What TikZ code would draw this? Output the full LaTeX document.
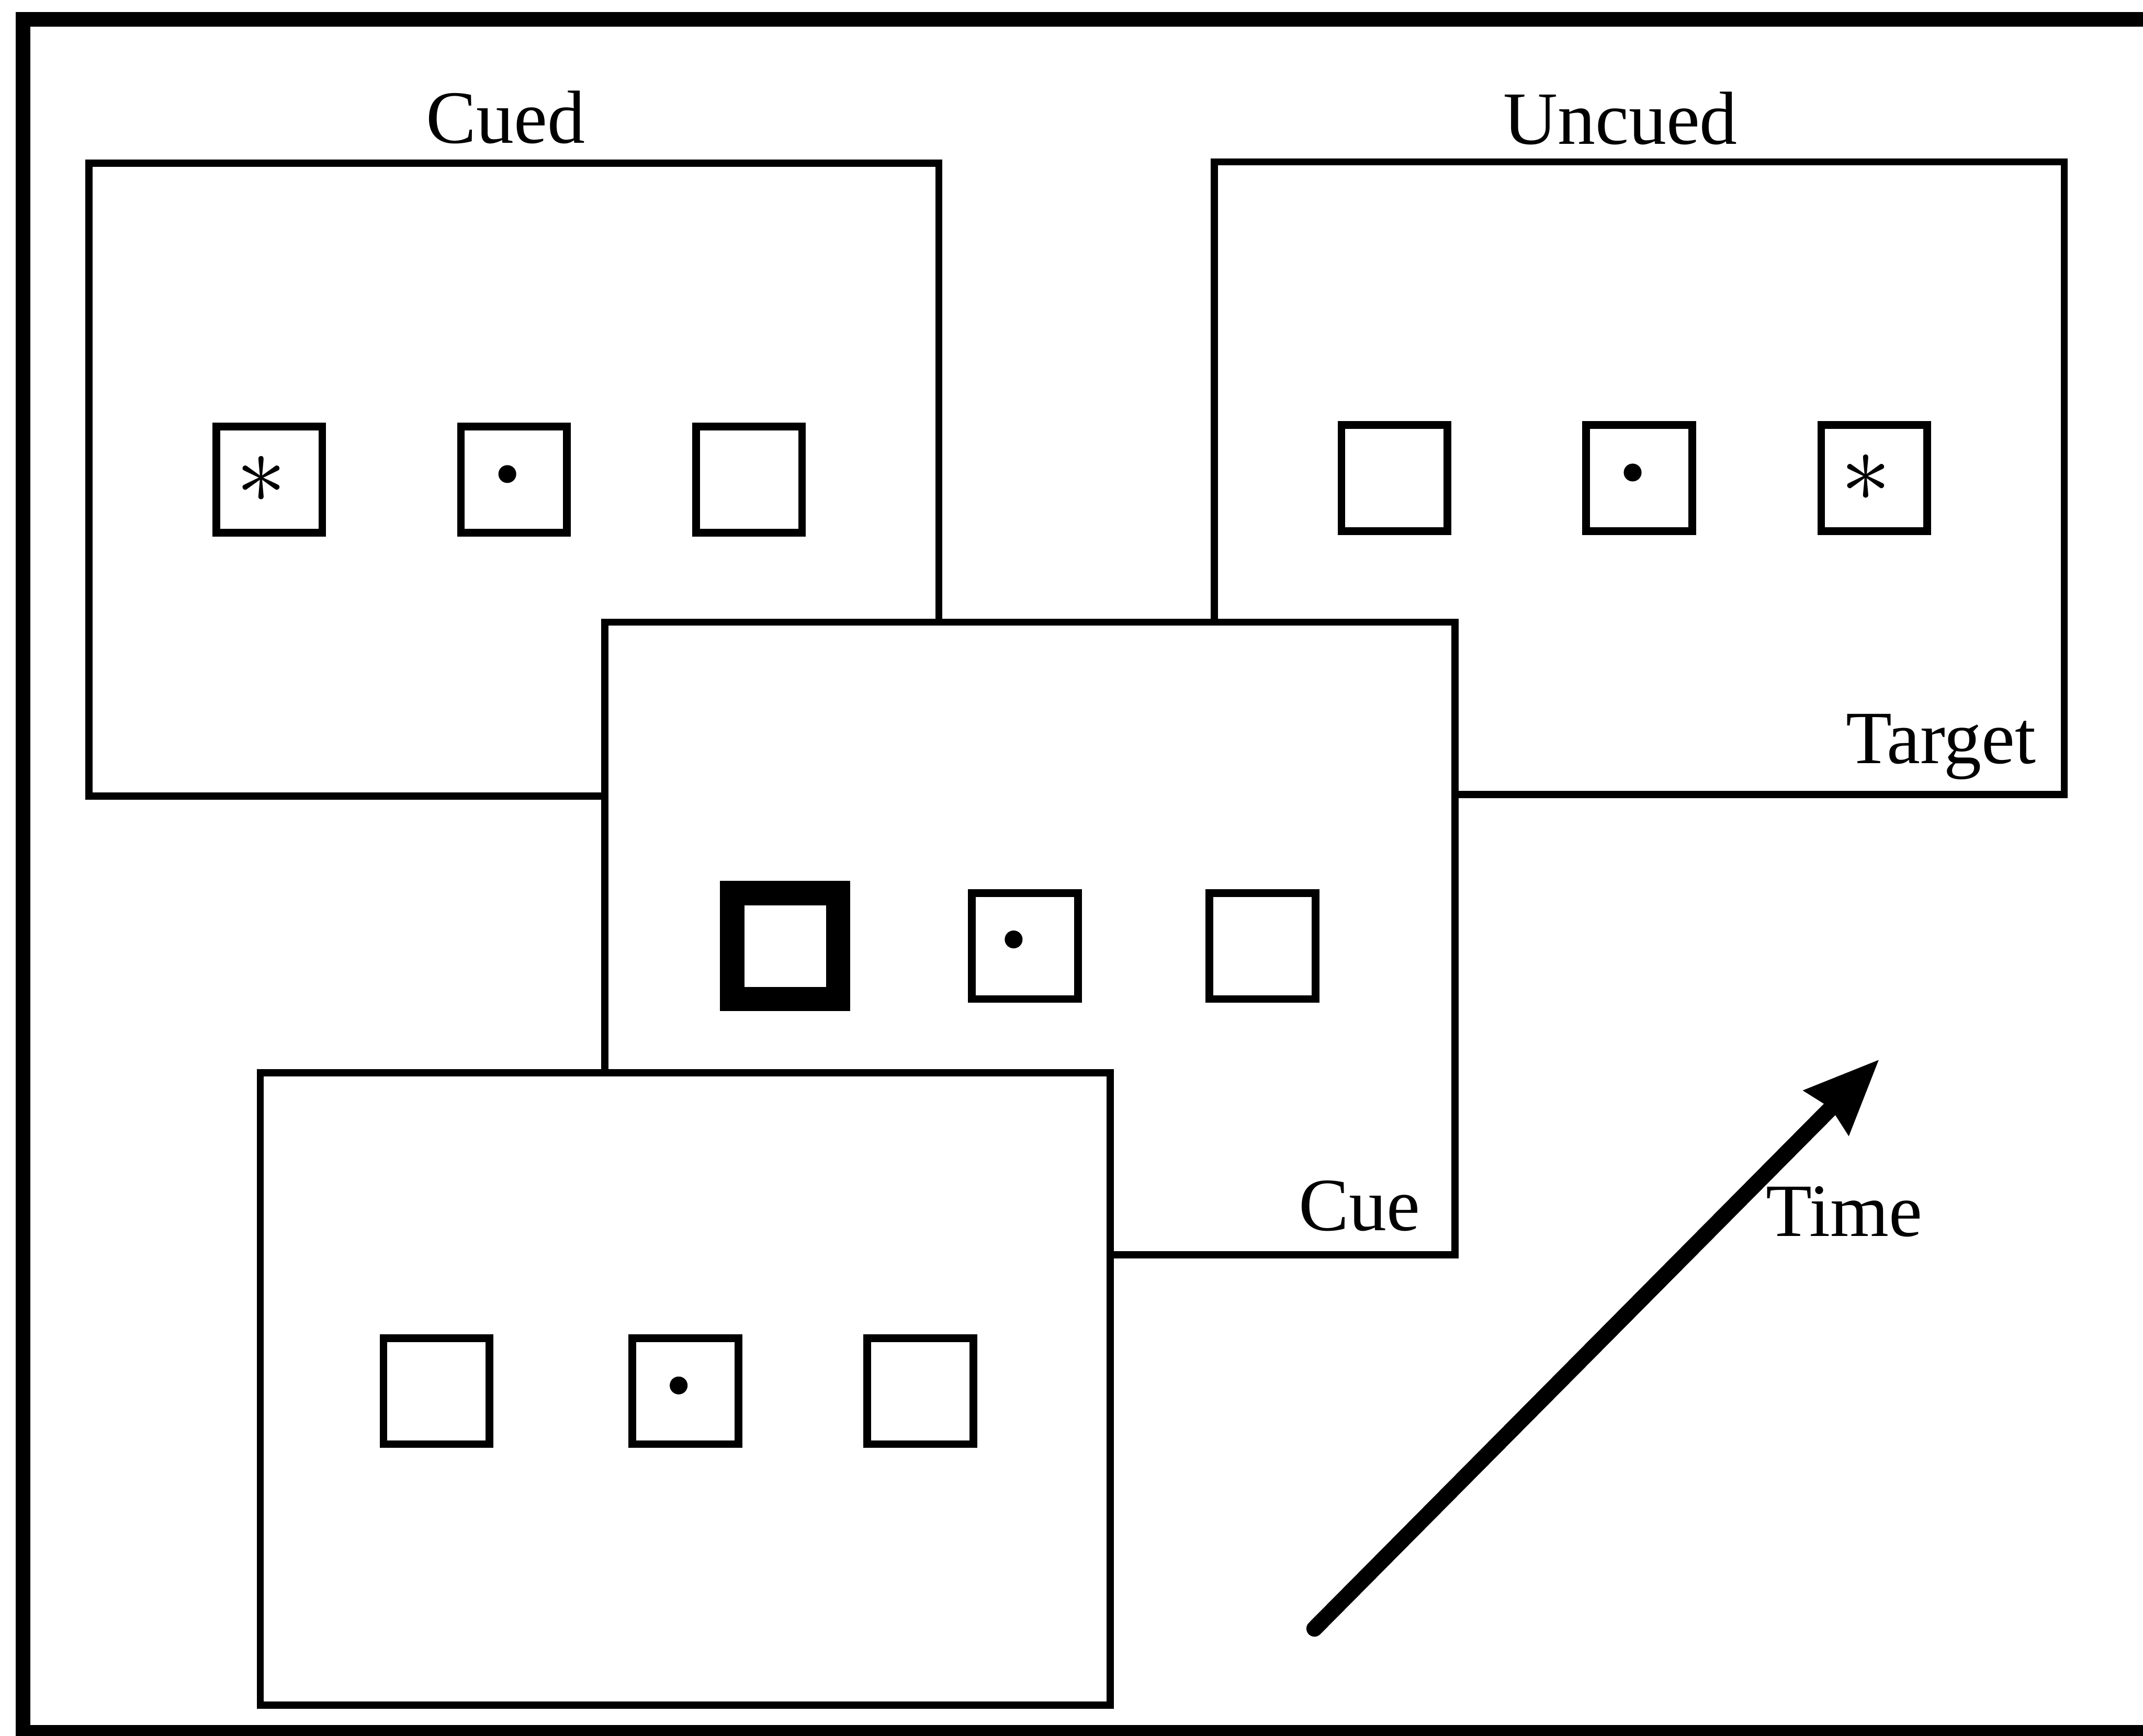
\documentclass[tikz,border=0pt]{standalone}
\usepackage{fontspec}
\setmainfont{Liberation Serif}
\usetikzlibrary{arrows.meta,positioning}

\begin{document}
\begin{tikzpicture}[
  screen/.style={rectangle, draw, fill=white, line width=4pt,
    minimum width=16.67cm, minimum height=12.41cm, inner sep=0pt, outer sep=0pt},
  place/.style={rectangle, draw, fill=white, line width=4.3pt,
    minimum size=2.08cm, inner sep=0pt, outer sep=0pt},
  cueplace/.style={place, line width=13.6pt},
  fixdot/.style={circle, fill, minimum size=0.35cm, inner sep=0pt},
  star/.style={inner sep=0pt, scale=5.6},
  lbl/.style={inner sep=0pt, font=\fontsize{42}{50}\selectfont},
  timearrow/.style={line width=9pt, line cap=round,
    -{Stealth[length=14.5mm, width=11.8mm, inset=1mm]}}
]
  \clip (0,0) rectangle (42.03,34.05);
  % frame, open on the right
  \draw[line width=8pt] (42.6,33.67) -- (0.45,33.67) -- (0.45,0.07) -- (42.6,0.07);

  % target display, cued side
  \node[screen] (cued) at (10.08,24.64) {};
  \node[place] (cuedB) at (cued.center) {};
  \node[place, left=2.72cm of cuedB] (cuedA) {};
  \node[place, right=2.53cm of cuedB] (cuedC) {};
  \node[fixdot] (cuedF) at ([xshift=-1.3mm, yshift=1.1mm]cuedB.center) {};
  \node[star] (cuedT) at ([xshift=-1.6mm]cuedA.center) {$\ast$};

  % target display, uncued side
  \node[screen] (target) at (32.15,24.67) {};
  \node[place] (targetB) at (target.center) {};
  \node[place, left=2.72cm of targetB] (targetA) {};
  \node[place, right=2.53cm of targetB] (targetC) {};
  \node[fixdot] (targetF) at ([xshift=-1.3mm, yshift=1.1mm]targetB.center) {};
  \node[star] (targetT) at ([xshift=-1.6mm]targetC.center) {$\ast$};

  % cue display
  \node[screen] (cue) at (20.20,15.64) {};
  \node[place] (cueB) at ([xshift=-1mm, yshift=-1.5mm]cue.center) {};
  \node[cueplace, left=2.62cm of cueB] (cueA) {};
  \node[place, right=2.58cm of cueB] (cueC) {};
  \node[fixdot] (cueF) at ([xshift=-2.2mm, yshift=1.3mm]cueB.center) {};

  % fixation display
  \node[screen] (fixation) at (13.44,6.80) {};
  \node[place] (fixB) at ([yshift=-0.4mm]fixation.center) {};
  \node[place, left=2.8cm of fixB] (fixA) {};
  \node[place, right=2.53cm of fixB] (fixC) {};
  \node[fixdot] (fixF) at ([xshift=-1.3mm, yshift=1.1mm]fixB.center) {};

  % labels
  \node[lbl, anchor=base] (cuedL) at ([xshift=-1.6mm, yshift=4mm]cued.north) {Cued};
  \node[lbl, anchor=base] (uncuedL) at ([xshift=-3.7mm, yshift=3.5mm]target.north) {Uncued};
  \node[lbl, anchor=base east] (targetL) at ([xshift=-5.5mm, yshift=6.1mm]target.south east) {Target};
  \node[lbl, anchor=base east] (cueL) at ([xshift=-6.8mm, yshift=4.8mm]cue.south east) {Cue};

  % time axis
  \coordinate (t0) at (25.78,2.10);
  \coordinate (t1) at (36.86,13.27);
  \draw[timearrow] (t0) -- (t1);
  \node[lbl, anchor=base west] (timeL) at (34.63,9.80) {Time};
\end{tikzpicture}
\end{document}
